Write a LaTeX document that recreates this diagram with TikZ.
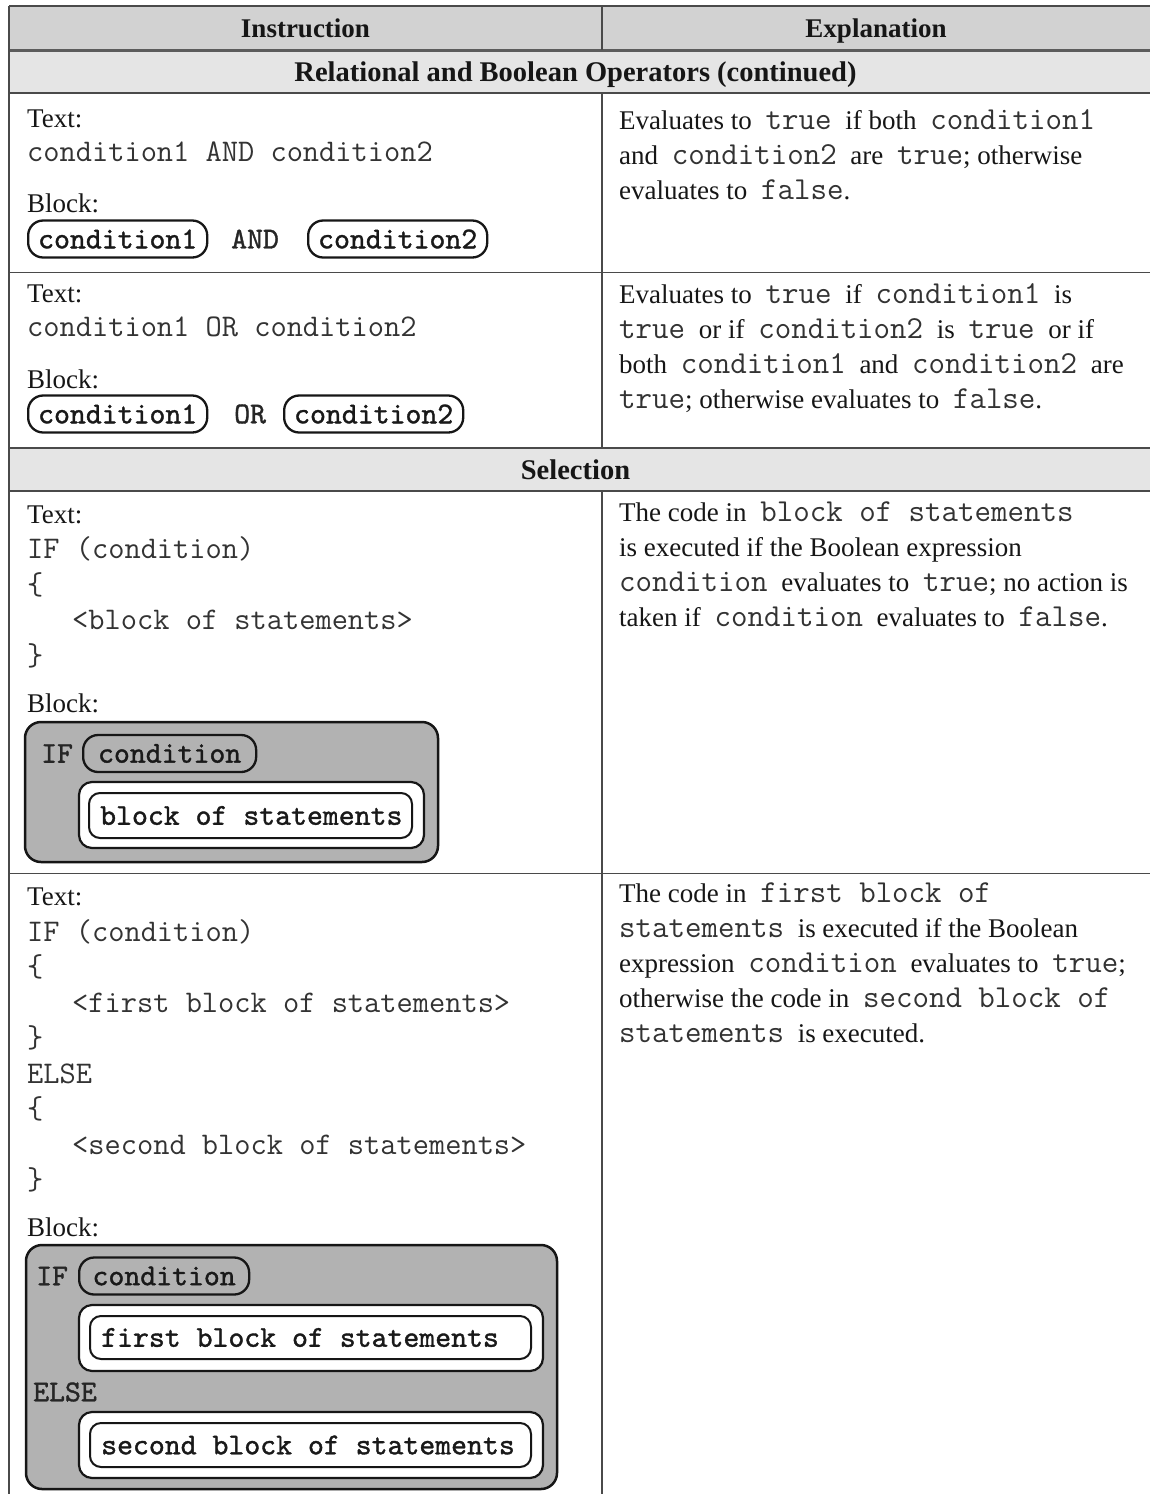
\documentclass[tikz,border=0pt]{standalone}
\usepackage{fontspec}
\setmainfont{Liberation Serif}
\newfontfamily\blkfont[FakeBold=1.2]{lmmono10-regular.otf}

\definecolor{hdrfill}{HTML}{D2D2D2}
\definecolor{secfill}{HTML}{E5E5E5}
\definecolor{rulecol}{HTML}{4A4A4A}
\definecolor{codegray}{HTML}{333333}
\definecolor{blockgray}{HTML}{B2B2B2}
\definecolor{inkcol}{HTML}{161616}

\newcommand\ct[1]{{\ttfamily\fontsize{32}{34}\selectfont\color{codegray}#1}}
\newcommand\sk{\hspace{7pt}}

\begin{document}
\begin{tikzpicture}[x=1pt,y=-1pt,
  rule/.style={draw=rulecol, line width=1.5pt},
  body/.style={anchor=base west, inner sep=0pt, font=\fontsize{27}{34}\selectfont, text=inkcol},
  code/.style={anchor=base west, inner sep=0pt, font=\ttfamily\fontsize{31.5}{34}\selectfont, text=codegray},
  head/.style={anchor=base, inner sep=0pt, font=\bfseries\fontsize{27}{34}\selectfont, text=inkcol},
  sechead/.style={head, font=\bfseries\fontsize{28.5}{34}\selectfont},
  blktext/.style={inner sep=0pt, font=\blkfont\fontsize{30.3}{32}\selectfont, text=black!85},
  stmtext/.style={inner sep=0pt, anchor=west, font=\blkfont\fontsize{30.3}{32}\selectfont, text=black!90},
  pill/.style={draw=inkcol, line width=2.3pt, rounded corners=15pt, fill=white,
    minimum height=37pt, inner xsep=10pt, inner ysep=0pt,
    font=\blkfont\fontsize{30.3}{32}\selectfont, text=black!90},
  bigblock/.style={draw=inkcol, line width=2.5pt, fill=blockgray, rounded corners=16pt, inner sep=0pt},
  outerbox/.style={draw=inkcol, line width=2.2pt, fill=white, rounded corners=13pt, inner sep=0pt},
  innerbox/.style={draw=inkcol, line width=2pt, fill=white, rounded corners=11pt, inner sep=0pt}
]
\useasboundingbox (0,0) rectangle (1150,1494);
\fill[white] (0,0) rectangle (1150,1494);

% ---- backgrounds of header / section rows
\fill[hdrfill] (9,6) rectangle (1150,50);
\fill[secfill] (9,50) rectangle (1150,93);
\fill[secfill] (9,448) rectangle (1150,491);

% ---- rules
\draw[rule, line width=2pt] (9,6) -- (1150,6);
\draw[rule, line width=3pt, draw=rulecol!90] (9,50) -- (1150,50);
\draw[rule] (9,93) -- (1150,93);
\draw[rule] (9,272.5) -- (1150,272.5);
\draw[rule] (9,448) -- (1150,448);
\draw[rule] (9,491) -- (1150,491);
\draw[rule] (9,873.5) -- (1150,873.5);
\draw[rule, line width=2pt] (9,6) -- (9,1494);
\draw[rule] (602,6) -- (602,50);
\draw[rule] (602,93) -- (602,448);
\draw[rule] (602,491) -- (602,1494);

% ---- headings
\node[head] (hInstr) at (305.5,37.5) {Instruction};
\node[head] (hExpl) at (876,37.5) {Explanation};
\node[sechead] (hRel) at (575.5,81) {Relational and Boolean Operators (continued)};
\node[sechead] (hSel) at (575.5,479) {Selection};

% ================= Row 1 : AND
\node[body] (t1) at (27,127) {Text:};
\node[code] (c1) at (27,161) {condition1 AND condition2};
\node[body] (b1) at (27,212) {Block:};
\node[pill, anchor=west] (p1a) at (27,239) {condition1};
\node[blktext, anchor=west] (and1) at (231,239) {AND};
\node[pill, anchor=west] (p1b) at (307,239) {condition2};

\node[body] (r1a) at (619,129) {Evaluates to\sk{} \ct{true}\sk{} if both\sk{} \ct{condition1}};
\node[body] (r1b) at (619,164) {and\sk{} \ct{condition2}\sk{} are\sk{} \ct{true}; otherwise};
\node[body] (r1c) at (619,199) {evaluates to\sk{} \ct{false}.};

% ================= Row 2 : OR
\node[body] (t2) at (27,302) {Text:};
\node[code] (c2) at (27,336) {condition1 OR condition2};
\node[body] (b2) at (27,388) {Block:};
\node[pill, anchor=west] (p2a) at (27,414) {condition1};
\node[blktext, anchor=west] (or2) at (234,414) {OR};
\node[pill, anchor=west] (p2b) at (283,414) {condition2};

\node[body] (r2a) at (619,303) {Evaluates to\sk{} \ct{true}\sk{} if\sk{} \ct{condition1}\sk{} is};
\node[body] (r2b) at (619,338) {\ct{true}\sk{} or if\sk{} \ct{condition2}\sk{} is\sk{} \ct{true}\sk{} or if};
\node[body] (r2c) at (619,373) {both\sk{} \ct{condition1}\sk{} and\sk{} \ct{condition2}\sk{} are};
\node[body] (r2d) at (619,408) {\ct{true}; otherwise evaluates to\sk{} \ct{false}.};

% ================= Row 3 : IF
\node[body] (t3) at (27,523) {Text:};
\node[code] (c3a) at (27,558) {IF (condition)};
\node[code] (c3b) at (27,594) {\{};
\node[code] (c3c) at (72,629) {<block of statements>};
\node[code] (c3d) at (27,665) {\}};
\node[body] (b3) at (27,712) {Block:};

\node[bigblock, minimum width=413pt, minimum height=140pt] (blk3) at (231.5,792) {};
\node[blktext, anchor=west] (if3) at (41,753.5) {IF};
\node[pill, fill=blockgray, minimum width=173pt, anchor=west] (cond3) at (82,753.5) {condition};
\node[outerbox, minimum width=345pt, minimum height=66pt] (o3) at (251.5,815) {};
\node[innerbox, minimum width=323pt, minimum height=45pt] (i3) at (250.5,815.5) {};
\node[stmtext] (s3) at (100,815.5) {block of statements};

\node[body] (r3a) at (619,521) {The code in\sk{} \ct{block of statements}};
\node[body] (r3b) at (619,556) {is executed if the Boolean expression};
\node[body] (r3c) at (619,591) {\ct{condition}\sk{} evaluates to\sk{} \ct{true}; no action is};
\node[body] (r3d) at (619,626) {taken if\sk{} \ct{condition}\sk{} evaluates to\sk{} \ct{false}.};

% ================= Row 4 : IF / ELSE
\node[body] (t4) at (27,905) {Text:};
\node[code] (c4a) at (27,941) {IF (condition)};
\node[code] (c4b) at (27,976.5) {\{};
\node[code] (c4c) at (72,1012) {<first block of statements>};
\node[code] (c4d) at (27,1047.5) {\}};
\node[code] (c4e) at (27,1083) {ELSE};
\node[code] (c4f) at (27,1118.5) {\{};
\node[code] (c4g) at (72,1154) {<second block of statements>};
\node[code] (c4h) at (27,1189.5) {\}};
\node[body] (b4) at (27,1236) {Block:};

\node[bigblock, minimum width=531pt, minimum height=244pt] (blk4) at (291.5,1367) {};
\node[blktext, anchor=west] (if4) at (36,1276) {IF};
\node[pill, fill=blockgray, minimum width=170pt, anchor=west] (cond4) at (78,1276) {condition};
\node[outerbox, minimum width=464pt, minimum height=66pt] (o4a) at (311,1338) {};
\node[innerbox, minimum width=441pt, minimum height=43pt] (i4a) at (310.5,1337.5) {};
\node[stmtext] (s4a) at (101,1337.5) {first block of statements};
\node[blktext, anchor=west] (else4) at (33,1392) {ELSE};
\node[outerbox, minimum width=464pt, minimum height=66pt] (o4b) at (311,1445) {};
\node[innerbox, minimum width=441pt, minimum height=44pt] (i4b) at (310.5,1445) {};
\node[stmtext] (s4b) at (101,1445) {second block of statements};

\node[body] (r4a) at (619,902) {The code in\sk{} \ct{first block of}};
\node[body] (r4b) at (619,937) {\ct{statements}\sk{} is executed if the Boolean};
\node[body] (r4c) at (619,972) {expression\sk{} \ct{condition}\sk{} evaluates to\sk{} \ct{true};};
\node[body] (r4d) at (619,1007) {otherwise the code in\sk{} \ct{second block of}};
\node[body] (r4e) at (619,1042) {\ct{statements}\sk{} is executed.};
\end{tikzpicture}
\end{document}
